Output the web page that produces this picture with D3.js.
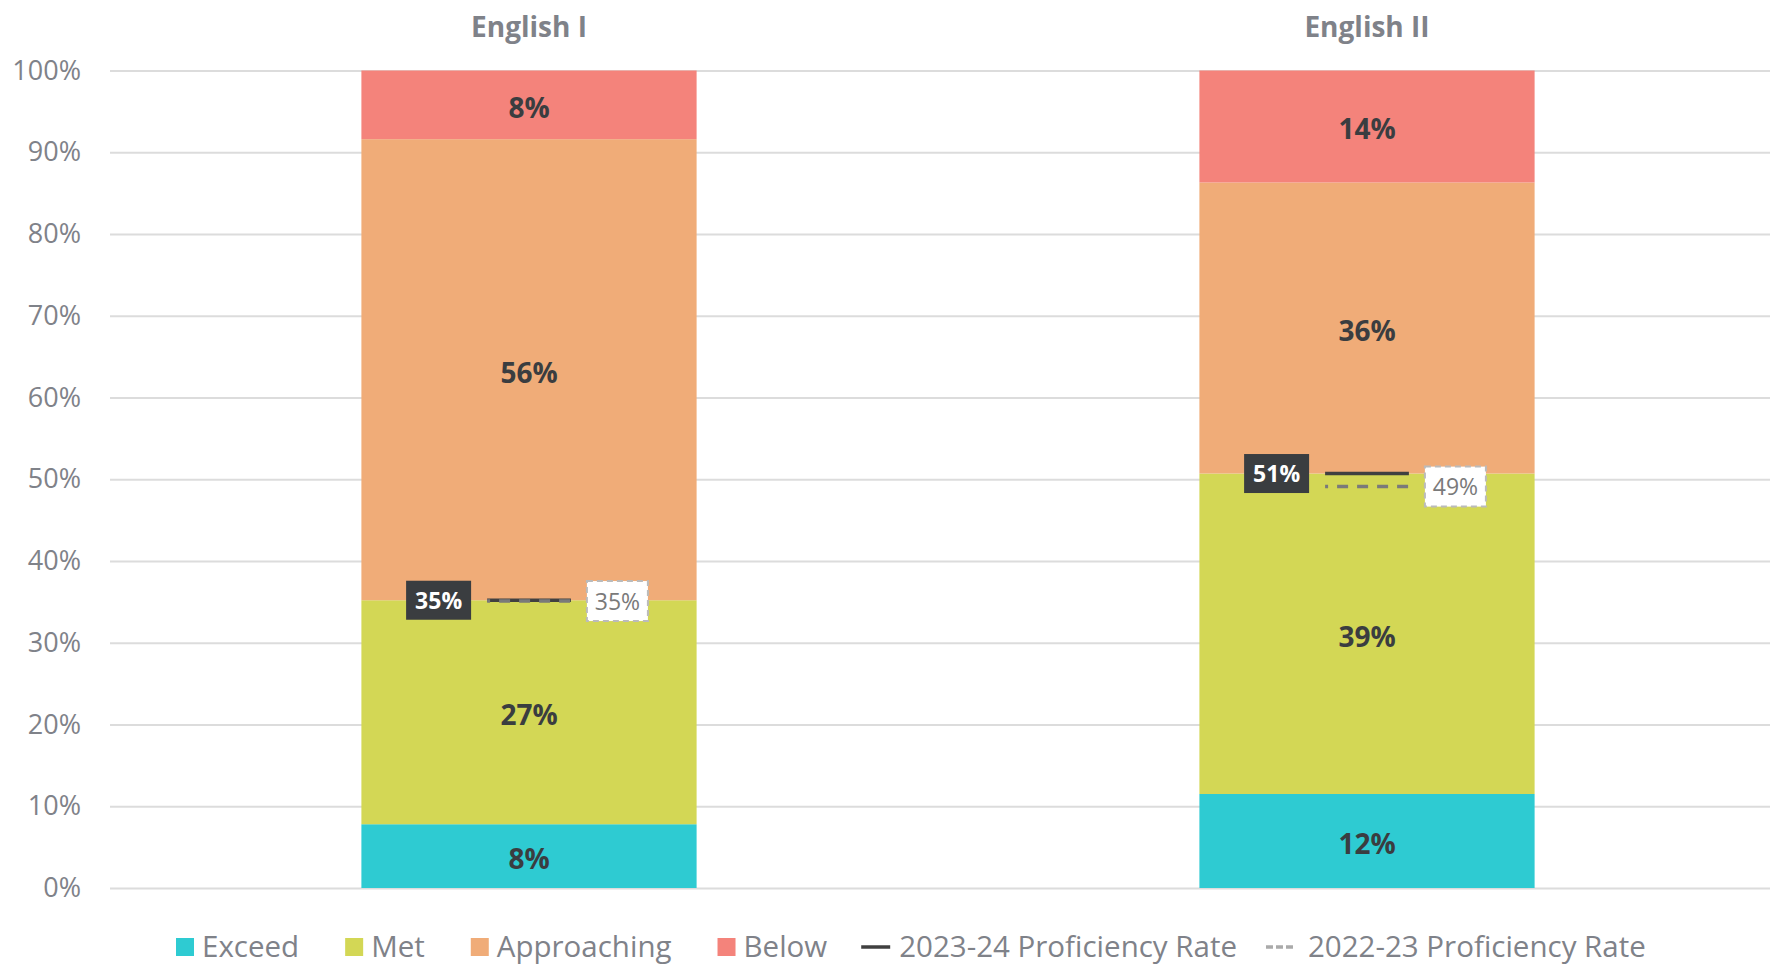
<!DOCTYPE html>
<html>
<head>
<meta charset="utf-8">
<title>English I / English II</title>
<script src="https://cdn.jsdelivr.net/npm/d3@7"></script>
<style>
body { margin: 0; background: #fff; font-family: 'Open Sans', sans-serif; }
svg { display: block; }
</style>
</head>
<body>
<script>
// values (percent of students)
var subjects = ["English I", "English II"];
var levels = ["Exceed", "Met", "Approaching", "Below"];
var exceed = [7.8, 11.5];
var met = [27.4, 39.2];
var approaching = [56.4, 35.6];
var below = [8.4, 13.7];
var rate2324 = [35.2, 50.7];
var rate2223 = [35.1, 49.1];
var rateNames = ["2023-24 Proficiency Rate", "2022-23 Proficiency Rate"];

var colors = ["#2ecbd2", "#d3d755", "#f0ac78", "#f4837b"];
var grey = "#7f8289";
var dark = "#3a3d40";

var w = 1770, h = 966;
var svg = d3.select("body").append("svg").attr("width", w).attr("height", h);

var x = d3.scaleBand().domain(subjects).range([110, 1786]);
var y = d3.scaleLinear().domain([0, 100]).range([888, 70.5]);
var barW = x.bandwidth() * 0.4;
function cx(d) { return x(d) + x.bandwidth() / 2; }

// grid + y labels
var yAxis = svg.append("g")
	.attr("transform", "translate(110,0)")
	.call(d3.axisLeft(y).tickValues(d3.range(0, 101, 10)).tickSize(-1660).tickFormat(function(d){ return d + "%"; }).tickPadding(29));
yAxis.select(".domain").remove();
yAxis.selectAll(".tick line").attr("stroke", "#dcdcdc").attr("stroke-width", 2);
yAxis.selectAll(".tick text").attr("fill", grey).attr("font-size", 27).attr("font-family", "'Open Sans', sans-serif");

// stacked bars
var table = subjects.map(function(s, i){
	return {subject: s, Exceed: exceed[i], Met: met[i], Approaching: approaching[i], Below: below[i]};
});
var series = d3.stack().keys(levels)(table);

var layer = svg.append("g").selectAll("g")
	.data(series)
	.enter().append("g")
	.attr("fill", function(d, i){ return colors[i]; });

layer.selectAll("rect")
	.data(function(d){ return d; })
	.enter().append("rect")
	.attr("x", function(d){ return cx(d.data.subject) - barW / 2; })
	.attr("width", barW)
	.attr("y", function(d){ return y(d[1]); })
	.attr("height", function(d){ return y(d[0]) - y(d[1]); });

layer.selectAll("text")
	.data(function(d){ return d; })
	.enter().append("text")
	.attr("x", function(d){ return cx(d.data.subject); })
	.attr("y", function(d){ return y((d[0] + d[1]) / 2) + 13; })
	.attr("text-anchor", "middle")
	.attr("font-size", 28)
	.attr("font-weight", "bold")
	.attr("fill", dark)
	.text(function(d){ return Math.round(d[1] - d[0]) + "%"; });

// titles
svg.append("g").selectAll("text")
	.data(subjects)
	.enter().append("text")
	.attr("x", cx)
	.attr("y", 37)
	.attr("text-anchor", "middle")
	.attr("font-size", 28)
	.attr("font-weight", "bold")
	.attr("fill", grey)
	.text(function(d){ return d; });

// proficiency markers
var half = x.bandwidth() * 0.05;
var marks = svg.append("g");
subjects.forEach(function(s, i){
	var c = cx(s);
	var y1 = y(rate2324[i]), y0 = y(rate2223[i]);
	marks.append("line")
		.attr("x1", c - half).attr("x2", c + half)
		.attr("y1", y1).attr("y2", y1)
		.attr("stroke", "#404040").attr("stroke-width", 3.5);
	marks.append("line")
		.attr("x1", c - half).attr("x2", c + half)
		.attr("y1", y0).attr("y2", y0)
		.attr("stroke", "#7a7a7a").attr("stroke-width", 3.5)
		.attr("stroke-dasharray", "11,9").attr("stroke-dashoffset", 8);

	// current year label
	marks.append("rect")
		.attr("x", c - half - 16 - 65).attr("y", y1 - 19.5)
		.attr("width", 65).attr("height", 39)
		.attr("fill", dark);
	marks.append("text")
		.attr("x", c - half - 16 - 32.5).attr("y", y1 + 8.5)
		.attr("text-anchor", "middle").attr("font-size", 23).attr("font-weight", "bold")
		.attr("fill", "#fff")
		.text(Math.round(rate2324[i]) + "%");

	// previous year label
	marks.append("rect")
		.attr("x", c + half + 16).attr("y", y0 - 20)
		.attr("width", 61).attr("height", 40)
		.attr("fill", "#fff").attr("stroke", "#bbbbbb").attr("stroke-width", 2)
		.attr("stroke-dasharray", "6,4");
	marks.append("text")
		.attr("x", c + half + 16 + 30.5).attr("y", y0 + 8.5)
		.attr("text-anchor", "middle").attr("font-size", 23)
		.attr("fill", "#7a7a7a")
		.text(Math.round(rate2223[i]) + "%");
});

// legend
var legend = svg.append("g").attr("font-size", 29.5).attr("fill", grey);
var lx = 176, ly = 947;
levels.forEach(function(name, i){
	legend.append("rect").attr("x", lx).attr("y", ly - 9).attr("width", 18).attr("height", 18).attr("fill", colors[i]);
	var t = legend.append("text").attr("x", lx + 26).attr("y", ly + 10).text(name);
	lx = lx + 26 + t.node().getComputedTextLength() + (i < 3 ? 46 : 34);
});
rateNames.forEach(function(name, i){
	legend.append("line").attr("x1", lx).attr("x2", lx + 29).attr("y1", ly).attr("y2", ly)
		.attr("stroke", i == 0 ? "#404040" : "#aaaaaa").attr("stroke-width", 3.5)
		.attr("stroke-dasharray", i == 0 ? null : "7,3");
	var t = legend.append("text").attr("x", lx + (i == 0 ? 38 : 42)).attr("y", ly + 10).text(name);
	lx = lx + (i == 0 ? 38 : 42) + t.node().getComputedTextLength() + 29;
});
</script>
</body>
</html>
